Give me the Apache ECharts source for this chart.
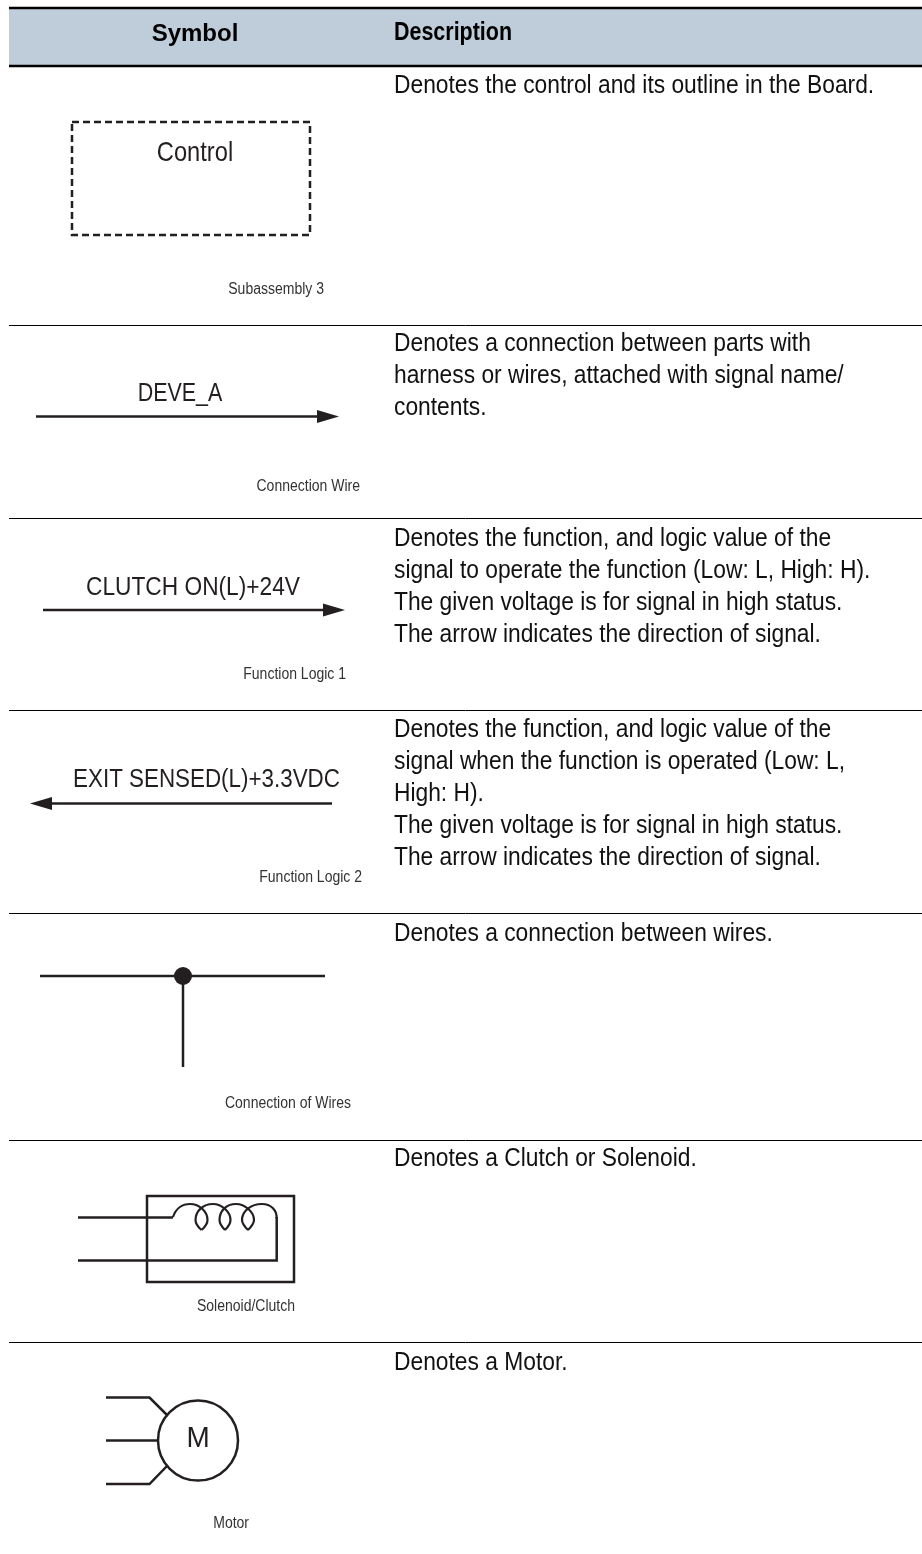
<!DOCTYPE html>
<html>
<head>
<meta charset="utf-8">
<style>html,body{margin:0;padding:0;background:#fff}#main{width:922px;height:1554px}</style>
<script src="https://cdn.jsdelivr.net/npm/echarts@6/dist/echarts.min.js"></script>
</head>
<body>
<div id="main"></div>
<script>
const ink = '#231f20';
const sans = '"Liberation Sans", sans-serif';

let headers = ['Symbol', 'Description'];
let rowRules = [325.5, 518.5, 710.5, 913.5, 1140.5, 1342.5];
let captions = ['Subassembly 3', 'Connection Wire', 'Function Logic 1', 'Function Logic 2', 'Connection of Wires', 'Solenoid/Clutch', 'Motor'];
let captionRight = [324, 360, 346, 362, 351, 295, 249];
let captionY = [290, 487, 675, 878, 1104, 1307, 1524];
let signalNames = ['Control', 'DEVE_A', 'CLUTCH ON(L)+24V', 'EXIT SENSED(L)+3.3VDC'];
let signalX = [195, 180, 193, 206.5];
let signalY = [153, 394, 588, 780];
let signalScale = [0.845, 0.825, 0.874, 0.861];
let descriptions = [
  ['Denotes the control and its outline in the Board.'],
  ['Denotes a connection between parts with', 'harness or wires, attached with signal name/', 'contents.'],
  ['Denotes the function, and logic value of the', 'signal to operate the function (Low: L, High: H).', 'The given voltage is for signal in high status.', 'The arrow indicates the direction of signal.'],
  ['Denotes the function, and logic value of the', 'signal when the function is operated (Low: L,', 'High: H).', 'The given voltage is for signal in high status.', 'The arrow indicates the direction of signal.'],
  ['Denotes a connection between wires.'],
  ['Denotes a Clutch or Solenoid.'],
  ['Denotes a Motor.']
];
let descriptionY = [86, 344, 539, 730, 934, 1159, 1363];

// schematic geometry, in page units of the hidden axes
let controlBox = [[72, 122], [310, 122], [310, 235], [72, 235], [72, 122]];
let wires = [
  [[36, 416.5], [320, 416.5]],
  [[43, 610], [326, 610]],
  [[332, 803.5], [50, 803.5]],
  [[40, 976], [325, 976]],
  [[183, 976], [183, 1067]],
  [[78, 1217.5], [173, 1217.5]],
  [[78, 1260.5], [276.7, 1260.5], [276.7, 1217]],
  [[147, 1196], [294, 1196], [294, 1282], [147, 1282], [147, 1194.75]],
  [[106, 1397.5], [149.5, 1397.5], [167, 1415]],
  [[106, 1440.5], [158, 1440.5]],
  [[106, 1484], [149.5, 1484], [167, 1466]]
];
let arrowHeads = [
  [[317, 410], [339, 416.5], [317, 423]],
  [[323, 603.5], [345, 610], [323, 616.5]],
  [[52, 797], [30, 803.5], [52, 810]]
];
let discs = [[183, 976, 9, true], [198, 1440.5, 40, false]];
let coil = [
  [173, 1217, 176, 1208, 183, 1204, 190, 1204],
  [190, 1204, 200, 1204, 207.5, 1212, 207.5, 1220],
  [207.5, 1220, 207.5, 1224, 205, 1227, 201.5, 1230],
  [201.5, 1230, 198, 1227, 195.5, 1224, 195.5, 1220],
  [195.5, 1220, 195.5, 1211, 203, 1204, 213, 1204],
  [213, 1204, 222, 1204, 230.5, 1212, 230.5, 1220],
  [230.5, 1220, 230.5, 1224, 228, 1227, 225, 1230],
  [225, 1230, 222, 1227, 219.5, 1224, 219.5, 1220],
  [219.5, 1220, 219.5, 1211, 226, 1204, 236, 1204],
  [236, 1204, 245, 1204, 254, 1212, 254, 1220],
  [254, 1220, 254, 1224, 251, 1227, 248, 1230],
  [248, 1230, 245, 1227, 242, 1224, 242, 1220],
  [242, 1220, 242, 1211, 251, 1204, 262, 1204],
  [262, 1204, 271, 1204, 276.7, 1210, 276.7, 1218]
];

// flat list of text items for the custom series, sx narrows the font like a condensed face
let texts = [];
texts.push({ text: headers[0], x: 195, y: 34, font: 'bold 24px ' + sans, align: 'center', fill: '#000', sx: 1 });
texts.push({ text: headers[1], x: 394, y: 33, font: 'bold 25px ' + sans, align: 'left', fill: '#000', sx: 0.858 });
captions.forEach(function (c, i) {
  texts.push({ text: c, x: captionRight[i], y: captionY[i], font: '16px ' + sans, align: 'right', fill: '#333', sx: 0.875 });
});
signalNames.forEach(function (s, i) {
  texts.push({ text: s, x: signalX[i], y: signalY[i], font: (i === 0 ? 28 : 26) + 'px ' + sans, align: 'center', fill: ink, sx: signalScale[i] });
});
texts.push({ text: 'M', x: 198, y: 1439, font: '30px ' + sans, align: 'center', fill: ink, sx: 0.93 });
descriptions.forEach(function (lines, i) {
  lines.forEach(function (line, k) {
    texts.push({ text: line, x: 394, y: descriptionY[i] + k * 32, font: '26.5px ' + sans, align: 'left', fill: '#111', sx: 0.86 });
  });
});

function lineSeries(points, width, type, color) {
  return {
    type: 'line',
    data: points,
    showSymbol: false,
    silent: true,
    lineStyle: { color: color || ink, width: width, type: type || 'solid', cap: 'butt', join: 'miter' }
  };
}

let series = [];
series.push({
  type: 'custom',
  silent: true,
  data: [[0]],
  renderItem: function (params, api) {
    let a = api.coord([9, 8]);
    let b = api.coord([922, 66]);
    return { type: 'rect', shape: { x: a[0], y: a[1], width: b[0] - a[0], height: b[1] - a[1] }, style: { fill: '#bfcddb' } };
  }
});
[8, 66].forEach(function (y) {
  series.push(lineSeries([[9, y], [922, y]], 2.5, 'solid', '#000'));
});
rowRules.forEach(function (y) {
  series.push(lineSeries([[9, y], [922, y]], 1, 'solid', '#000'));
});
series.push(lineSeries(controlBox, 2.5, [7, 4]));
wires.forEach(function (w) {
  series.push(lineSeries(w, 2.5));
});
series.push({
  type: 'custom',
  silent: true,
  data: arrowHeads.map(function (h, i) { return [i]; }),
  renderItem: function (params, api) {
    return { type: 'polygon', shape: { points: arrowHeads[params.dataIndex].map(function (p) { return api.coord(p); }) }, style: { fill: ink } };
  }
});
series.push({
  type: 'custom',
  silent: true,
  data: discs.map(function (d, i) { return [i]; }),
  renderItem: function (params, api) {
    let d = discs[params.dataIndex];
    let c = api.coord([d[0], d[1]]);
    return { type: 'circle', shape: { cx: c[0], cy: c[1], r: d[2] }, style: d[3] ? { fill: ink } : { fill: 'none', stroke: ink, lineWidth: 2.5 } };
  }
});
series.push({
  type: 'custom',
  silent: true,
  data: coil.map(function (s, i) { return [i]; }),
  renderItem: function (params, api) {
    let s = coil[params.dataIndex];
    let p0 = api.coord([s[0], s[1]]), p1 = api.coord([s[2], s[3]]), p2 = api.coord([s[4], s[5]]), p3 = api.coord([s[6], s[7]]);
    return {
      type: 'bezierCurve',
      shape: { x1: p0[0], y1: p0[1], cpx1: p1[0], cpy1: p1[1], cpx2: p2[0], cpy2: p2[1], x2: p3[0], y2: p3[1] },
      style: { fill: 'none', stroke: ink, lineWidth: 2.2 }
    };
  }
});
series.push({
  type: 'custom',
  silent: true,
  data: texts.map(function (t, i) { return [i]; }),
  renderItem: function (params, api) {
    let t = texts[params.dataIndex];
    let c = api.coord([t.x, t.y]);
    return {
      type: 'text',
      x: c[0],
      y: c[1],
      scaleX: t.sx,
      style: { x: 0, y: 0, text: t.text, font: t.font, fill: t.fill, align: t.align, verticalAlign: 'middle' }
    };
  }
});

let myChart = echarts.init(document.getElementById('main'));
myChart.setOption({
  animation: false,
  backgroundColor: '#fff',
  grid: { left: 0, right: 0, top: 0, bottom: 0 },
  xAxis: { type: 'value', min: 0, max: 922, show: false },
  yAxis: { type: 'value', min: 0, max: 1554, inverse: true, show: false },
  series: series
});
</script>
</body>
</html>
